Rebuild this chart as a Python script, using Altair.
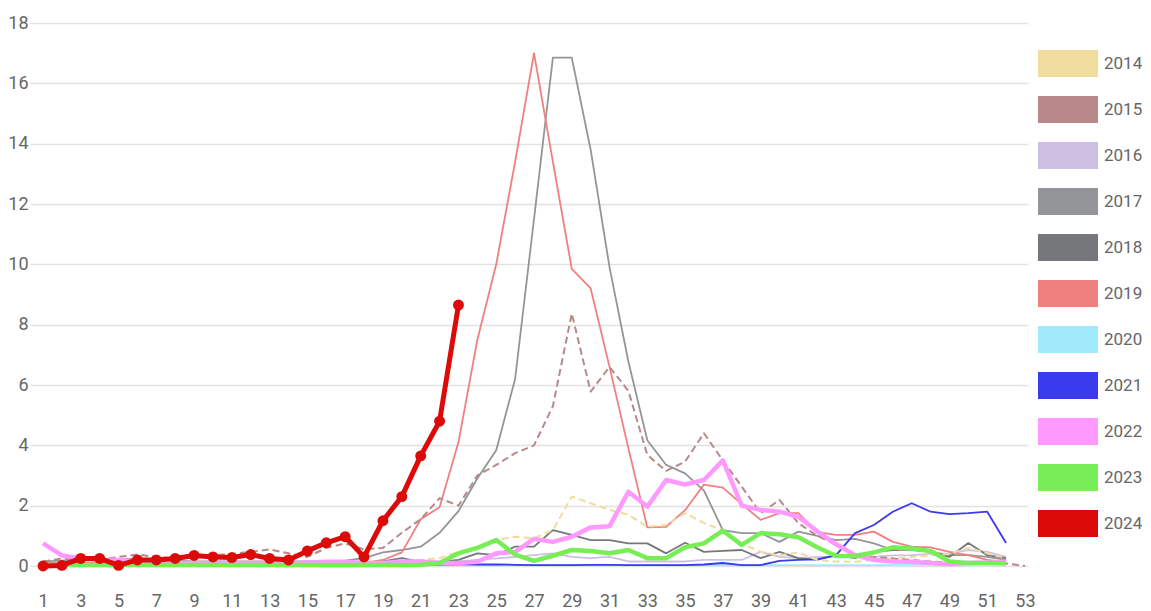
import altair as alt
import pandas as pd

years = ["2014", "2015", "2016", "2017", "2018", "2019", "2020", "2021", "2022", "2023", "2024"]
colors = ["#f0dc9c", "#b8888a", "#cdc0e2", "#939598", "#76777b", "#f08080",
          "#a0eafc", "#3a3aee", "#ff99ff", "#77ee55", "#dd0a0a"]
x_ticks = list(range(1, 54, 2))
y_ticks = list(range(0, 19, 2))

v2014 = [0.05, 0.05, 0.05, 0.05, 0.05, 0.05, 0.05, 0.05, 0.05, 0.05, 0.05, 0.05, 0.05, 0.05, 0.05, 0.05, 0.05, 0.08,
         0.1, 0.12, 0.2, 0.26, 0.47, 0.64, 0.86, 0.97, 0.92, 1.19, 2.3, 2.08, 1.86, 1.7, 1.3, 1.36, 1.75, 1.42,
         1.19, 0.75, 0.47, 0.35, 0.45, 0.2, 0.15, 0.14, 0.2, 0.26, 0.3, 0.36, 0.4, 0.6, 0.42, 0.26]
v2015 = [0.15, 0.25, 0.2, 0.2, 0.3, 0.38, 0.3, 0.25, 0.3, 0.36, 0.4, 0.47, 0.55, 0.42, 0.3, 0.6, 0.75, 0.55,
         0.6, 1.1, 1.55, 2.25, 2.0, 3.0, 3.35, 3.74, 4.0, 5.3, 8.37, 5.78, 6.6, 5.8, 3.68, 3.15, 3.46, 4.4,
         3.5, 2.63, 1.75, 2.19, 1.42, 1.0, 0.7, 0.35, 0.3, 0.25, 0.2, 0.15, 0.12, 0.1, 0.08, 0.08, 0.0]
v2016 = [0.1, 0.1, 0.08, 0.08, 0.08, 0.1, 0.1, 0.08, 0.08, 0.08, 0.08, 0.08, 0.08, 0.08, 0.1, 0.12, 0.15, 0.12,
         0.1, 0.12, 0.15, 0.15, 0.15, 0.2, 0.25, 0.3, 0.36, 0.42, 0.3, 0.26, 0.3, 0.15, 0.15, 0.15, 0.15, 0.2,
         0.2, 0.2, 0.47, 0.3, 0.26, 0.3, 0.3, 0.3, 0.3, 0.35, 0.36, 0.4, 0.42, 0.53, 0.47, 0.3]
v2017 = [0.15, 0.18, 0.2, 0.2, 0.22, 0.25, 0.2, 0.18, 0.15, 0.15, 0.15, 0.15, 0.15, 0.15, 0.15, 0.15, 0.18, 0.26,
         0.45, 0.53, 0.64, 1.1, 1.82, 2.9, 3.84, 6.2, 11.5, 16.85, 16.85, 13.8, 9.9, 6.77, 4.17, 3.35, 3.07, 2.5,
         1.19, 1.09, 1.09, 0.8, 1.14, 1.0, 0.86, 0.9, 0.75, 0.53, 0.53, 0.47, 0.36, 0.36, 0.3, 0.2]
v2018 = [0.1, 0.1, 0.1, 0.1, 0.1, 0.1, 0.1, 0.1, 0.1, 0.1, 0.1, 0.1, 0.1, 0.1, 0.1, 0.1, 0.1, 0.1,
         0.15, 0.26, 0.14, 0.14, 0.2, 0.42, 0.36, 0.64, 0.64, 1.19, 1.03, 0.86, 0.86, 0.75, 0.75, 0.42, 0.77, 0.47,
         0.5, 0.53, 0.26, 0.47, 0.26, 0.2, 0.36, 0.26, 0.47, 0.53, 0.6, 0.47, 0.3, 0.76, 0.36, 0.26]
v2019 = [0.1, 0.1, 0.1, 0.12, 0.12, 0.15, 0.12, 0.1, 0.1, 0.1, 0.1, 0.1, 0.1, 0.1, 0.1, 0.1, 0.1, 0.1,
         0.2, 0.45, 1.55, 1.95, 4.1, 7.5, 10.0, 13.4, 17.0, 13.4, 9.85, 9.2, 6.6, 3.9, 1.28, 1.3, 1.85, 2.7,
         2.6, 2.05, 1.53, 1.75, 1.75, 1.12, 1.03, 1.03, 1.14, 0.8, 0.64, 0.62, 0.47, 0.36, 0.2, 0.14]
v2020 = [0.05, 0.04, 0.03, 0.03, 0.03, 0.03, 0.03, 0.03, 0.03, 0.03, 0.03, 0.03, 0.03, 0.03, 0.03, 0.03, 0.03, 0.03,
         0.03, 0.03, 0.03, 0.03, 0.03, 0.03, 0.03, 0.03, 0.03, 0.03, 0.03, 0.03, 0.03, 0.03, 0.03, 0.03, 0.03, 0.03,
         0.03, 0.03, 0.03, 0.03, 0.03, 0.03, 0.03, 0.03, 0.03, 0.04, 0.04, 0.04, 0.04, 0.05, 0.05, 0.06]
v2021 = [0.03, 0.03, 0.03, 0.03, 0.03, 0.05, 0.05, 0.05, 0.05, 0.05, 0.03, 0.03, 0.03, 0.03, 0.03, 0.03, 0.03, 0.03,
         0.03, 0.04, 0.05, 0.05, 0.06, 0.05, 0.05, 0.04, 0.03, 0.03, 0.03, 0.04, 0.04, 0.03, 0.03, 0.03, 0.03, 0.05,
         0.1, 0.03, 0.03, 0.17, 0.2, 0.22, 0.36, 1.09, 1.36, 1.8, 2.08, 1.8, 1.72, 1.75, 1.8, 0.76]
v2022 = [0.75, 0.35, 0.25, 0.2, 0.2, 0.15, 0.12, 0.1, 0.1, 0.1, 0.1, 0.1, 0.1, 0.1, 0.12, 0.14, 0.14, 0.1,
         0.1, 0.15, 0.15, 0.1, 0.1, 0.14, 0.42, 0.47, 0.9, 0.8, 0.97, 1.28, 1.32, 2.46, 1.97, 2.85, 2.7, 2.85,
         3.5, 2.0, 1.86, 1.8, 1.63, 1.15, 0.72, 0.36, 0.2, 0.15, 0.14, 0.1, 0.06, 0.1, 0.12, 0.14]
v2023 = [0.03, 0.03, 0.03, 0.03, 0.03, 0.03, 0.03, 0.03, 0.03, 0.03, 0.03, 0.03, 0.03, 0.03, 0.03, 0.03, 0.03, 0.03,
         0.03, 0.03, 0.04, 0.1, 0.42, 0.6, 0.86, 0.38, 0.17, 0.34, 0.53, 0.5, 0.42, 0.53, 0.26, 0.26, 0.62, 0.75,
         1.17, 0.7, 1.09, 1.05, 0.95, 0.62, 0.33, 0.33, 0.45, 0.62, 0.58, 0.5, 0.15, 0.1, 0.1, 0.08]
v2024 = [0.0, 0.02, 0.25, 0.25, 0.02, 0.2, 0.2, 0.25, 0.35, 0.3, 0.28, 0.38, 0.25, 0.2, 0.5, 0.77, 0.97, 0.3,
         1.5, 2.3, 3.65, 4.8, 8.65]

series = {"2014": v2014, "2015": v2015, "2016": v2016, "2017": v2017, "2018": v2018, "2019": v2019,
          "2020": v2020, "2021": v2021, "2022": v2022, "2023": v2023, "2024": v2024}

rows = []
for yr, vals in series.items():
    for i, v in enumerate(vals):
        rows.append({"week": i + 1, "year": yr, "value": v})
df = pd.DataFrame(rows)

FONT = "Roboto"
SWATCH = "M-1,-0.45H1V0.45H-1Z"

leg = alt.Legend(
    title=None, orient="none", legendX=1008, legendY=27, padding=0,
    symbolType=SWATCH, symbolSize=3600, clipHeight=27,
    rowPadding=19, labelOffset=6, labelFontSize=17, labelColor="#666666",
    labelFont=FONT, symbolStrokeWidth=0, labelLimit=200,
)

x = alt.X("week:Q", scale=alt.Scale(domain=[0.31, 53.16], nice=False, zero=False),
          axis=alt.Axis(values=x_ticks, title=None, grid=False, domain=False, ticks=False,
                        labelPadding=26, labelFontSize=18, labelColor="#666666", labelFont=FONT,
                        labelFlush=False))
y = alt.Y("value:Q", scale=alt.Scale(domain=[0, 18], nice=False),
          axis=alt.Axis(values=y_ticks, title=None, domain=False, ticks=False, labelPadding=2,
                        labelFontSize=18, labelColor="#666666", labelFont=FONT,
                        gridColor="#e2e2e2", gridWidth=1.5))
color_noleg = alt.Color("year:N", scale=alt.Scale(domain=years, range=colors), legend=None)
color_leg = alt.Color("year:N", scale=alt.Scale(domain=years, range=colors), legend=leg)

base = alt.Chart(df)


def in_years(ys):
    return alt.FieldOneOfPredicate(field="year", oneOf=ys)


legend_layer = base.mark_point(filled=True, opacity=0, shape=SWATCH, size=1).encode(
    x=x, y=y, color=color_leg)
thin = base.transform_filter(in_years(["2016", "2017", "2018", "2019", "2020", "2021"])).mark_line(
    strokeWidth=1.8, strokeJoin="round").encode(x=x, y=y, color=color_noleg)
dashed = base.transform_filter(in_years(["2014", "2015"])).mark_line(
    strokeWidth=2, strokeDash=[7, 4], strokeJoin="round").encode(x=x, y=y, color=color_noleg)
thick = base.transform_filter(in_years(["2022", "2023"])).mark_line(
    strokeWidth=4.5, strokeJoin="round").encode(x=x, y=y, color=color_noleg)
red_line = base.transform_filter(in_years(["2024"])).mark_line(
    strokeWidth=5, strokeJoin="round").encode(x=x, y=y, color=color_noleg)
red_pts = base.transform_filter(in_years(["2024"])).mark_circle(size=120, opacity=1).encode(
    x=x, y=y, color=alt.value("#dd0a0a"))

chart = alt.layer(legend_layer, thin, dashed, thick, red_line, red_pts).properties(
    width=998, height=543,
    autosize=alt.AutoSizeParams(type="none"),
    padding={"left": 22, "top": 15, "right": 114, "bottom": 45},
).configure_view(stroke=None)

chart.save("out.html", embed_options={"renderer": "svg", "actions": False})
